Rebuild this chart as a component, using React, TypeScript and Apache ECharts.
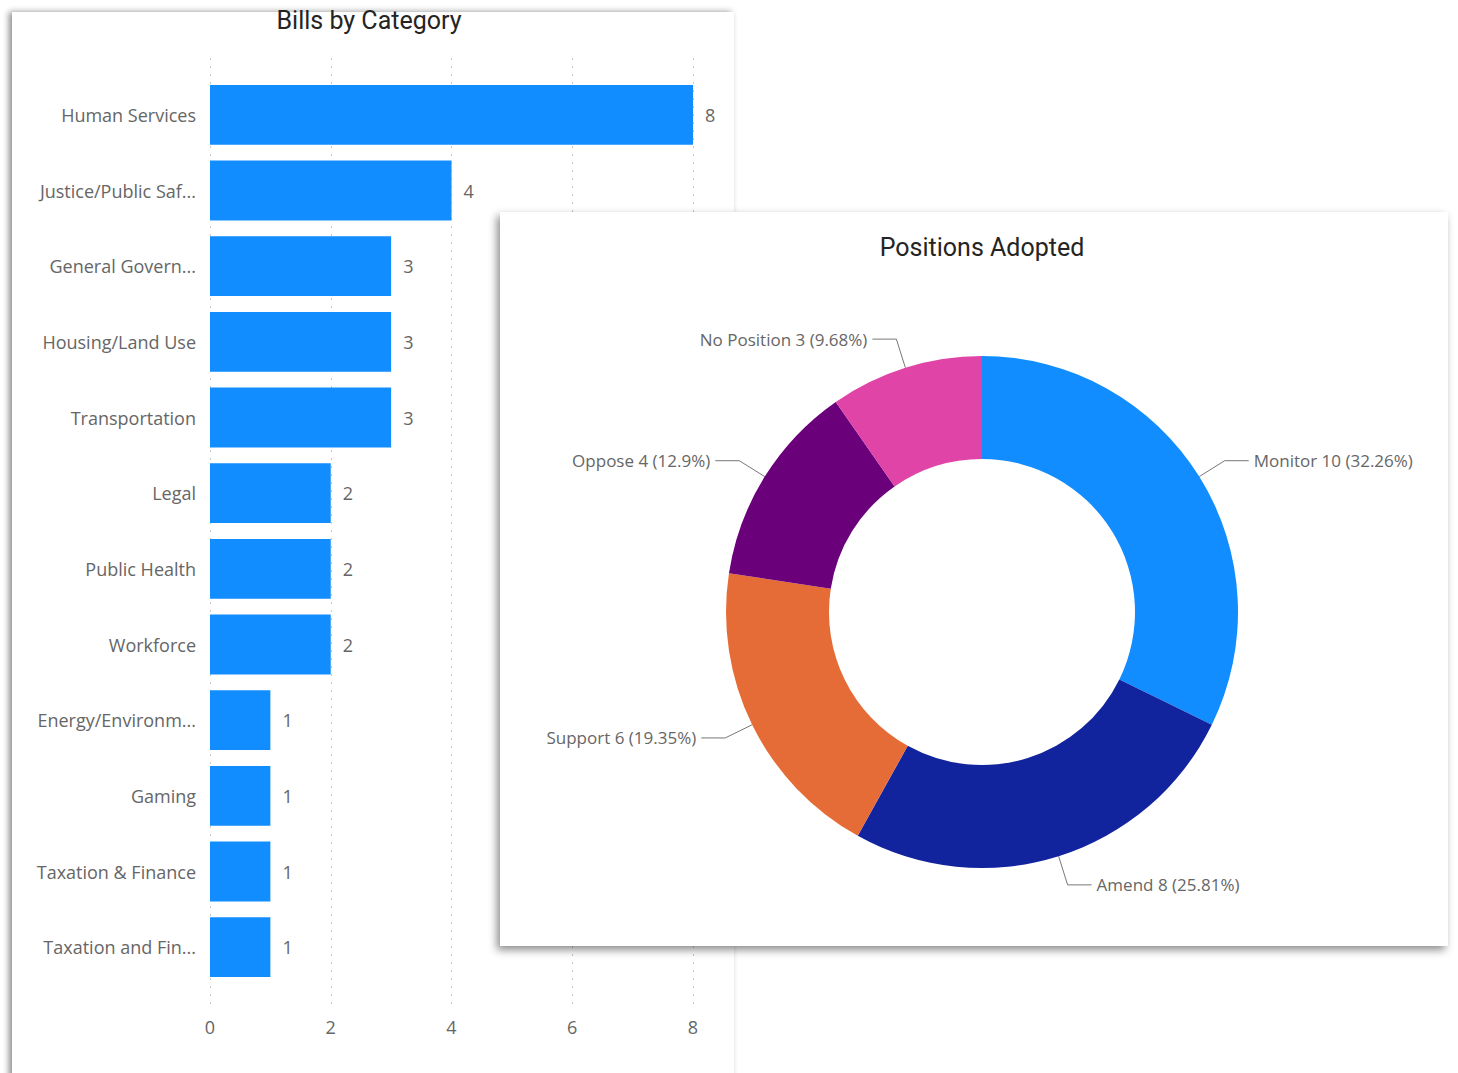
import React, { useEffect, useRef } from "react";
import * as echarts from "echarts";

const categories = [
  "Human Services",
  "Justice/Public Saf...",
  "General Govern...",
  "Housing/Land Use",
  "Transportation",
  "Legal",
  "Public Health",
  "Workforce",
  "Energy/Environm...",
  "Gaming",
  "Taxation & Finance",
  "Taxation and Fin...",
];
const billCounts = [8, 4, 3, 3, 3, 2, 2, 2, 1, 1, 1, 1];
const xTicks = [0, 2, 4, 6, 8];

const positions = ["Monitor", "Amend", "Support", "Oppose", "No Position"];
const positionCounts = [10, 8, 6, 4, 3];
const positionColors = ["#118DFF", "#12239E", "#E66C37", "#6B007B", "#E044A7"];

const FONT = "'Open Sans', 'Noto Sans', sans-serif";
const TITLE_FONT = "Roboto, 'Noto Sans', sans-serif";
const GRAY = "#666666";

export default function App() {
  const ref = useRef<HTMLDivElement>(null);
  useEffect(() => {
    if (!ref.current) return;
    const chart = echarts.init(ref.current, undefined, { renderer: "svg" });
    const option: any = {
      animation: false,
      backgroundColor: "#ffffff",
      title: [
        {
          text: "Bills by Category",
          left: 364,
          top: 3,
          textAlign: "center",
          textStyle: { fontFamily: TITLE_FONT, fontSize: 25, fontWeight: "normal", color: "#252423" },
        },
        {
          text: "Positions Adopted",
          left: 977,
          top: 230,
          textAlign: "center",
          z: 10,
          textStyle: { fontFamily: TITLE_FONT, fontSize: 25, fontWeight: "normal", color: "#252423" },
        },
      ],
      graphic: [
        {
          type: "rect",
          z: -5,
          shape: { x: 12, y: 12, width: 722, height: 1100 },
          style: {
            fill: "#ffffff",
            shadowBlur: 6,
            shadowColor: "rgba(0,0,0,0.45)",
            shadowOffsetX: -3,
            shadowOffsetY: 0,
          },
        },
        {
          type: "rect",
          z: 1,
          shape: { x: 500, y: 212, width: 948, height: 734 },
          style: {
            fill: "#ffffff",
            shadowBlur: 8,
            shadowColor: "rgba(0,0,0,0.45)",
            shadowOffsetX: -3,
            shadowOffsetY: 4,
          },
        },
      ],
      grid: [
        { left: 210, width: 483, top: 77, height: 908 },
        { left: 210, width: 483, top: 58, height: 952 },
      ],
      xAxis: [
        {
          gridIndex: 0,
          type: "value",
          min: 0,
          max: 8,
          interval: 2,
          show: false,
        },
        {
          gridIndex: 1,
          type: "value",
          min: 0,
          max: 8,
          interval: 2,
          data: xTicks,
          axisLine: { show: false },
          axisTick: { show: false },
          axisLabel: { color: GRAY, fontFamily: FONT, fontSize: 18, margin: 8 },
          splitLine: { show: true, lineStyle: { color: "#c8c8c8", type: [2, 6], width: 1 } },
        },
      ],
      yAxis: [
        {
          gridIndex: 0,
          type: "category",
          data: categories,
          inverse: true,
          axisLine: { show: false },
          axisTick: { show: false },
          axisLabel: { color: GRAY, fontFamily: FONT, fontSize: 18, margin: 14 },
        },
        {
          gridIndex: 1,
          type: "value",
          show: false,
          min: 0,
          max: 1,
          splitLine: { show: false },
        },
      ],
      series: [
        {
          type: "bar",
          xAxisIndex: 0,
          yAxisIndex: 0,
          data: billCounts,
          barCategoryGap: "21%",
          itemStyle: { color: "#118DFF" },
          label: {
            show: true,
            position: "right",
            distance: 12,
            color: GRAY,
            fontFamily: FONT,
            fontSize: 18,
          },
          z: 2,
        },
        {
          type: "pie",
          center: [982, 612],
          radius: [153, 256],
          startAngle: 90,
          clockwise: true,
          z: 5,
          data: positions.map((name, i) => ({
            name,
            value: positionCounts[i],
            itemStyle: { color: positionColors[i] },
          })),
          label: {
            show: true,
            formatter: "{b} {c} ({d}%)",
            color: GRAY,
            fontFamily: FONT,
            fontSize: 17,
          },
          labelLine: {
            show: true,
            length: 30,
            length2: 24,
            lineStyle: { color: "#777777", width: 1 },
          },
          emphasis: { disabled: true },
        },
      ],
    };
    chart.setOption(option);
    return () => chart.dispose();
  }, []);
  return (
    <div
      ref={ref}
      style={{ position: "absolute", left: 0, top: 0, width: 1458, height: 1073 }}
    />
  );
}
